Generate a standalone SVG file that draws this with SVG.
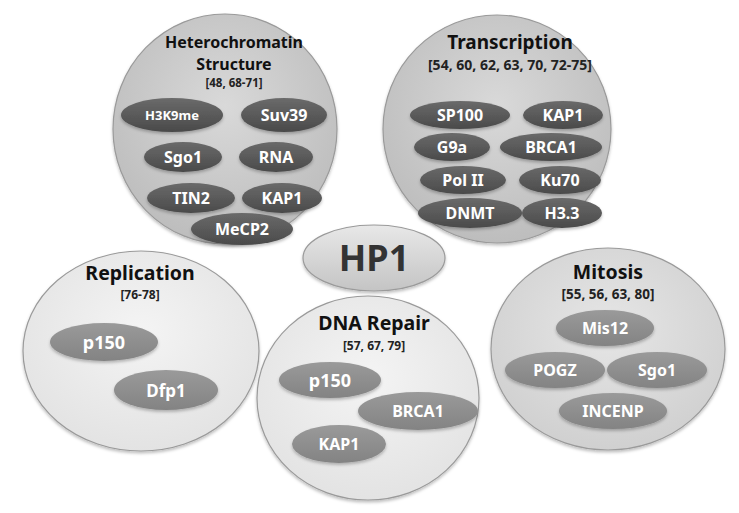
<svg xmlns="http://www.w3.org/2000/svg" width="739" height="513" viewBox="0 0 739 513">
<defs>
<radialGradient id="gDark" cx="50%" cy="40%" r="60%">
<stop offset="0" stop-color="#d9d9d9"/><stop offset="1" stop-color="#bdbdbd"/>
</radialGradient>
<radialGradient id="gLight" cx="50%" cy="40%" r="60%">
<stop offset="0" stop-color="#f4f4f4"/><stop offset="1" stop-color="#e3e3e3"/>
</radialGradient>
<radialGradient id="gMit" cx="50%" cy="40%" r="60%">
<stop offset="0" stop-color="#e6e6e6"/><stop offset="1" stop-color="#d0d0d0"/>
</radialGradient>
<linearGradient id="gPillD" x1="0" y1="0" x2="0" y2="1">
<stop offset="0" stop-color="#6a6a6a"/><stop offset="1" stop-color="#4a4a4a"/>
</linearGradient>
<linearGradient id="gPillL" x1="0" y1="0" x2="0" y2="1">
<stop offset="0" stop-color="#9a9a9a"/><stop offset="1" stop-color="#838383"/>
</linearGradient>
<linearGradient id="gHP" x1="0" y1="0" x2="0" y2="1">
<stop offset="0" stop-color="#e8e8e8"/><stop offset="1" stop-color="#c4c4c4"/>
</linearGradient>
<filter id="sh" x="-20%" y="-20%" width="140%" height="150%">
<feDropShadow dx="0" dy="2" stdDeviation="1.5" flood-color="#000" flood-opacity="0.25"/>
</filter>
</defs>
<style>
.big{stroke:#9a9a9a;stroke-width:1.2;filter:url(#sh)}
.pd{fill:url(#gPillD);filter:url(#sh)}
.pl{fill:url(#gPillL);filter:url(#sh)}
text{font-family:"Noto Sans","Open Sans","DejaVu Sans",sans-serif;font-weight:bold;text-anchor:middle}
.t{font-size:19px;fill:#111}
.r{font-size:12px;fill:#222}
.w{font-size:16px;fill:#fff}
</style>
<rect width="739" height="513" fill="#fff"/>
<g id="heterochromatin">
<ellipse class="big" cx="225" cy="129" rx="112" ry="115" fill="url(#gDark)"/>
<text class="t" x="234" y="48" style="font-size:16px">Heterochromatin</text>
<text class="t" x="234" y="70" style="font-size:16px">Structure</text>
<text class="r" x="234" y="87" style="font-size:11.5px">[48, 68-71]</text>
<ellipse class="pd" cx="172" cy="115" rx="51" ry="17"/><text class="w" x="172" y="120" style="font-size:13px">H3K9me</text>
<ellipse class="pd" cx="284" cy="115" rx="43" ry="17"/><text class="w" x="284" y="121">Suv39</text>
<ellipse class="pd" cx="183" cy="157" rx="39" ry="15"/><text class="w" x="183" y="163">Sgo1</text>
<ellipse class="pd" cx="276" cy="157" rx="37" ry="15"/><text class="w" x="276" y="163">RNA</text>
<ellipse class="pd" cx="191" cy="198" rx="44" ry="15"/><text class="w" x="191" y="204">TIN2</text>
<ellipse class="pd" cx="282" cy="198" rx="40" ry="15"/><text class="w" x="282" y="204">KAP1</text>
<ellipse class="pd" cx="242" cy="229" rx="51" ry="16"/><text class="w" x="242" y="235">MeCP2</text>
</g>
<g id="transcription">
<ellipse class="big" cx="497" cy="129" rx="114" ry="114" fill="url(#gDark)"/>
<text class="t" x="510" y="49">Transcription</text>
<text class="r" x="510" y="70" style="font-size:14px">[54, 60, 62, 63, 70, 72-75]</text>
<ellipse class="pd" cx="460" cy="115" rx="50" ry="14"/><text class="w" x="460" y="121">SP100</text>
<ellipse class="pd" cx="563" cy="115" rx="40" ry="14"/><text class="w" x="563" y="121">KAP1</text>
<ellipse class="pd" cx="452" cy="147" rx="38" ry="14"/><text class="w" x="452" y="153">G9a</text>
<ellipse class="pd" cx="551" cy="147" rx="51" ry="14"/><text class="w" x="551" y="153">BRCA1</text>
<ellipse class="pd" cx="463" cy="180" rx="43" ry="14"/><text class="w" x="463" y="186">Pol II</text>
<ellipse class="pd" cx="560" cy="180" rx="41" ry="14"/><text class="w" x="560" y="186">Ku70</text>
<ellipse class="pd" cx="470" cy="213" rx="52" ry="15"/><text class="w" x="470" y="219">DNMT</text>
<ellipse class="pd" cx="562" cy="213" rx="40" ry="15"/><text class="w" x="562" y="219">H3.3</text>
</g>
<g id="replication">
<ellipse class="big" cx="141" cy="351" rx="118" ry="100" fill="url(#gLight)"/>
<text class="t" x="140" y="280" style="font-size:19.5px">Replication</text>
<text class="r" x="140" y="299">[76-78]</text>
<ellipse class="pl" cx="104" cy="342" rx="54" ry="19"/><text class="w" x="104" y="349" style="font-size:18px">p150</text>
<ellipse class="pl" cx="166" cy="390" rx="52" ry="20"/><text class="w" x="166" y="397" style="font-size:17px">Dfp1</text>
</g>
<g id="dna-repair">
<ellipse class="big" cx="368" cy="398" rx="111" ry="102" fill="url(#gLight)"/>
<text class="t" x="374" y="330" style="font-size:19.5px">DNA Repair</text>
<text class="r" x="374" y="350">[57, 67, 79]</text>
<ellipse class="pl" cx="330" cy="380" rx="51" ry="18"/><text class="w" x="330" y="387" style="font-size:18px">p150</text>
<ellipse class="pl" cx="418" cy="411" rx="60" ry="19"/><text class="w" x="418" y="417">BRCA1</text>
<ellipse class="pl" cx="339" cy="444" rx="47" ry="19"/><text class="w" x="339" y="450">KAP1</text>
</g>
<g id="mitosis">
<ellipse class="big" cx="608" cy="349" rx="117" ry="101" fill="url(#gMit)"/>
<text class="t" x="608" y="279" style="font-size:19.5px">Mitosis</text>
<text class="r" x="608" y="299" style="font-size:13.5px">[55, 56, 63, 80]</text>
<ellipse class="pl" cx="605" cy="328" rx="49" ry="18"/><text class="w" x="605" y="334">Mis12</text>
<ellipse class="pl" cx="555" cy="370" rx="50" ry="18"/><text class="w" x="555" y="376">POGZ</text>
<ellipse class="pl" cx="657" cy="370" rx="50" ry="18"/><text class="w" x="657" y="376">Sgo1</text>
<ellipse class="pl" cx="613" cy="411" rx="54" ry="18"/><text class="w" x="613" y="417">INCENP</text>
</g>
<g id="hp1">
<ellipse cx="374" cy="258" rx="71" ry="33" fill="url(#gHP)" stroke="#9a9a9a" stroke-width="1.2" style="filter:url(#sh)"/>
<text x="374" y="271" style="font-size:36px;fill:#333">HP1</text>
</g>
<g id="connectors"/>
</svg>
